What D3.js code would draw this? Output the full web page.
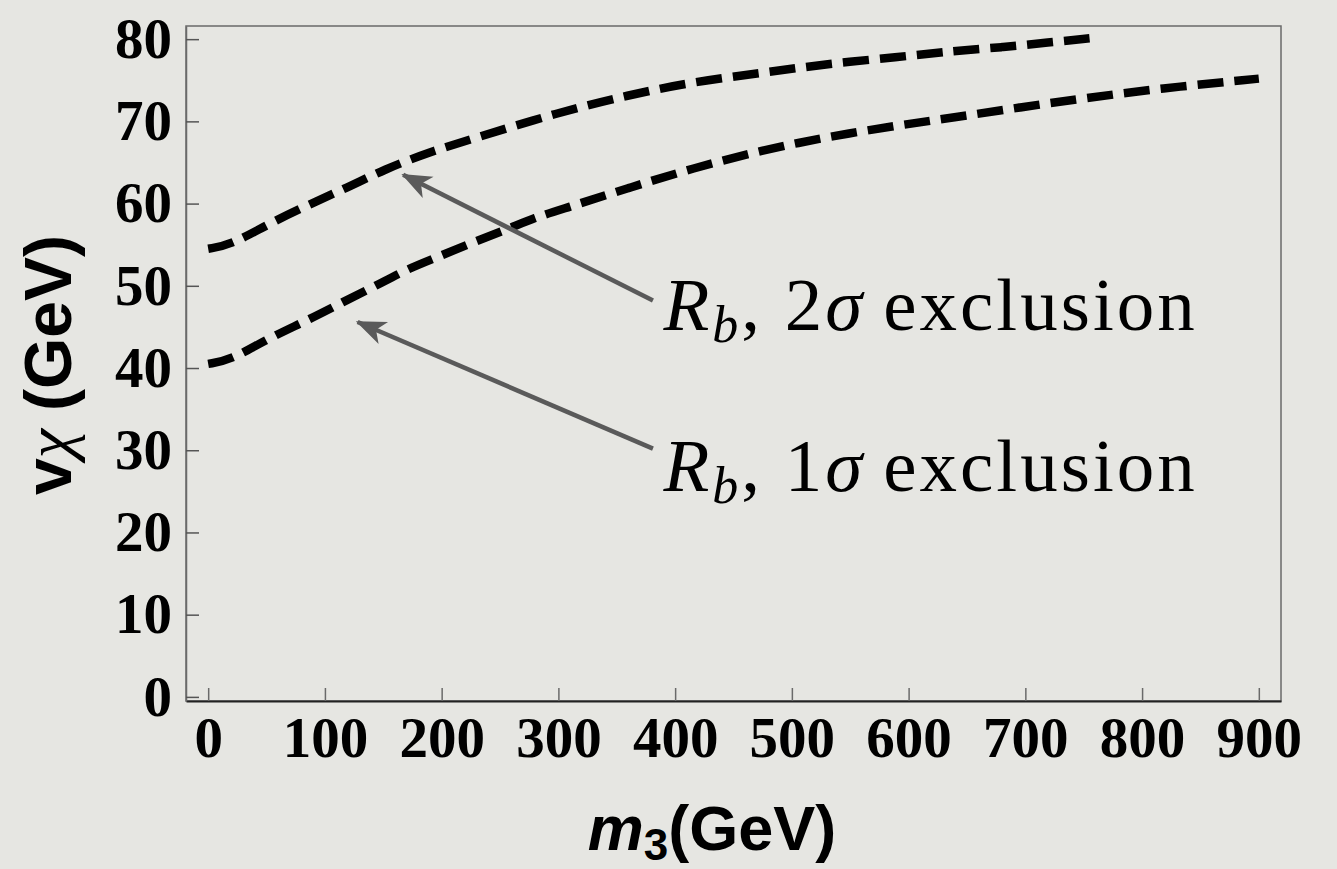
<!DOCTYPE html>
<html>
<head>
<meta charset="utf-8">
<script src="https://cdn.jsdelivr.net/npm/d3@7"></script>
<style>
  body { margin: 0; background: #e6e6e2; }
  .tick text { font-family: "Liberation Serif", serif; font-weight: bold; font-size: 57px; fill: #000; }
</style>
</head>
<body>
<div class="chart"></div>
<script>
// 2 sigma curve (upper)
const upperM = [0, 20, 50, 85, 120, 150, 190, 225, 300, 360, 415, 475, 530, 590, 640, 680, 720, 755];
const upperV = [54.5, 55.0, 57.4, 59.8, 62.0, 64.1, 66.3, 67.8, 71.1, 73.2, 74.8, 75.9, 77.0, 77.8, 78.6, 79.0, 79.6, 80.1];
// 1 sigma curve (lower)
const lowerM = [0, 20, 50, 85, 115, 145, 170, 195, 225, 255, 280, 305, 360, 415, 475, 530, 590, 640, 695, 750, 815, 900];
const lowerV = [40.5, 41.0, 43.5, 45.8, 48.0, 50.1, 52.0, 53.4, 55.2, 56.8, 58.3, 59.4, 61.9, 64.3, 66.5, 68.1, 69.5, 70.5, 71.7, 72.8, 74.0, 75.2];

const xTicks = [0, 100, 200, 300, 400, 500, 600, 700, 800, 900];
const yTicks = [0, 10, 20, 30, 40, 50, 60, 70, 80];

// annotations: arrow tail -> tip, label position (data units)
const labelSigma = ["2", "1"];
const arrowFrom = [[381, 48.2], [381, 30.2]];
const arrowTo = [[167, 63.5], [128, 45.6]];
const labelAt = [[390, 44.6], [390, 25.1]];

const W = 1337, H = 869;
const svg = d3.select(".chart").append("svg")
  .attr("width", W).attr("height", H);

svg.append("rect").attr("width", W).attr("height", H).attr("fill", "#e6e6e2");

const x = d3.scaleLinear().domain([-19, 919]).range([186, 1281]);
const y = d3.scaleLinear().domain([-0.5, 81.6]).range([701, 26]);

// frame
svg.append("rect")
  .attr("x", 186).attr("y", 26)
  .attr("width", 1281 - 186).attr("height", 701 - 26)
  .attr("fill", "none").attr("stroke", "#6a6a6a").attr("stroke-width", 1.5);

const xAxis = d3.axisBottom(x).tickValues(xTicks).tickSizeInner(-13).tickSizeOuter(0).tickPadding(16);
const gx = svg.append("g").attr("class", "axis x-axis")
  .attr("transform", "translate(0,701)").call(xAxis);
gx.select(".domain").attr("stroke", "#222").attr("stroke-width", 2);
gx.selectAll(".tick line").attr("stroke", "#6a6a6a").attr("stroke-width", 1.5);

const yAxis = d3.axisLeft(y).tickValues(yTicks).tickSizeInner(-13).tickSizeOuter(0).tickPadding(14);
const gy = svg.append("g").attr("class", "axis y-axis")
  .attr("transform", "translate(186,0)").call(yAxis);
gy.select(".domain").attr("stroke", "#6a6a6a").attr("stroke-width", 1.5);
gy.selectAll(".tick line").attr("stroke", "#555").attr("stroke-width", 1.5);

// curves
const line = d3.line().curve(d3.curveBasis).x(d => x(d[0])).y(d => y(d[1]));
const curves = [d3.zip(upperM, upperV), d3.zip(lowerM, lowerV)];
svg.selectAll(".curve").data(curves).enter().append("path")
  .attr("class", "curve")
  .attr("d", line)
  .attr("fill", "none")
  .attr("stroke", "#000")
  .attr("stroke-width", 8.5)
  .attr("stroke-dasharray", "26,11");

// arrows
svg.append("defs").append("marker")
  .attr("id", "head")
  .attr("markerUnits", "userSpaceOnUse")
  .attr("viewBox", "-32 -15 34 30")
  .attr("markerWidth", 34).attr("markerHeight", 30)
  .attr("refX", 0).attr("refY", 0)
  .attr("orient", "auto")
  .append("path")
  .attr("d", "M2,0 L-28,-12 L-20,0 L-28,12 Z")
  .attr("fill", "#5a5a5a");

svg.selectAll(".arrow").data(d3.range(2)).enter().append("line")
  .attr("class", "arrow")
  .attr("x1", i => x(arrowFrom[i][0])).attr("y1", i => y(arrowFrom[i][1]))
  .attr("x2", i => x(arrowTo[i][0])).attr("y2", i => y(arrowTo[i][1]))
  .attr("stroke", "#5a5a5a").attr("stroke-width", 4.5)
  .attr("marker-end", "url(#head)");

// labels
const lbl = svg.selectAll(".lbl").data(d3.range(2)).enter().append("text")
  .attr("class", "lbl")
  .attr("x", i => x(labelAt[i][0])).attr("y", i => y(labelAt[i][1]))
  .style("font-family", "'Liberation Serif', serif")
  .style("font-size", "75px")
  .style("letter-spacing", "3px")
  .attr("fill", "#000");
lbl.append("tspan").style("font-style", "italic").text("R");
lbl.append("tspan").style("font-style", "italic").style("font-size", "52px").attr("dy", 12).text("b");
lbl.append("tspan").attr("dy", -12).text(", ");
lbl.append("tspan").text(i => labelSigma[i]);
lbl.append("tspan").style("font-style", "italic").text("σ");
lbl.append("tspan").attr("dx", 18).text("exclusion");

// axis titles
const xt = svg.append("text").attr("x", 712).attr("y", 850)
  .attr("text-anchor", "middle")
  .style("font-family", "'Liberation Sans', Arial, sans-serif")
  .style("font-weight", "bold").style("font-size", "63px");
xt.append("tspan").style("font-style", "italic").text("m");
xt.append("tspan").style("font-size", "44px").attr("dy", 10).text("3");
xt.append("tspan").attr("dy", -10).text("(GeV)");

const yt = svg.append("text")
  .attr("transform", "translate(71,365) rotate(-90)")
  .attr("text-anchor", "middle")
  .style("font-family", "'Liberation Sans', Arial, sans-serif")
  .style("font-weight", "bold").style("font-size", "66px");
yt.append("tspan").text("v");
yt.append("tspan").style("font-family", "'Liberation Serif', serif").style("font-style", "italic").style("font-weight", "normal").text("χ");
yt.append("tspan").text(" (GeV)");
</script>
</body>
</html>
